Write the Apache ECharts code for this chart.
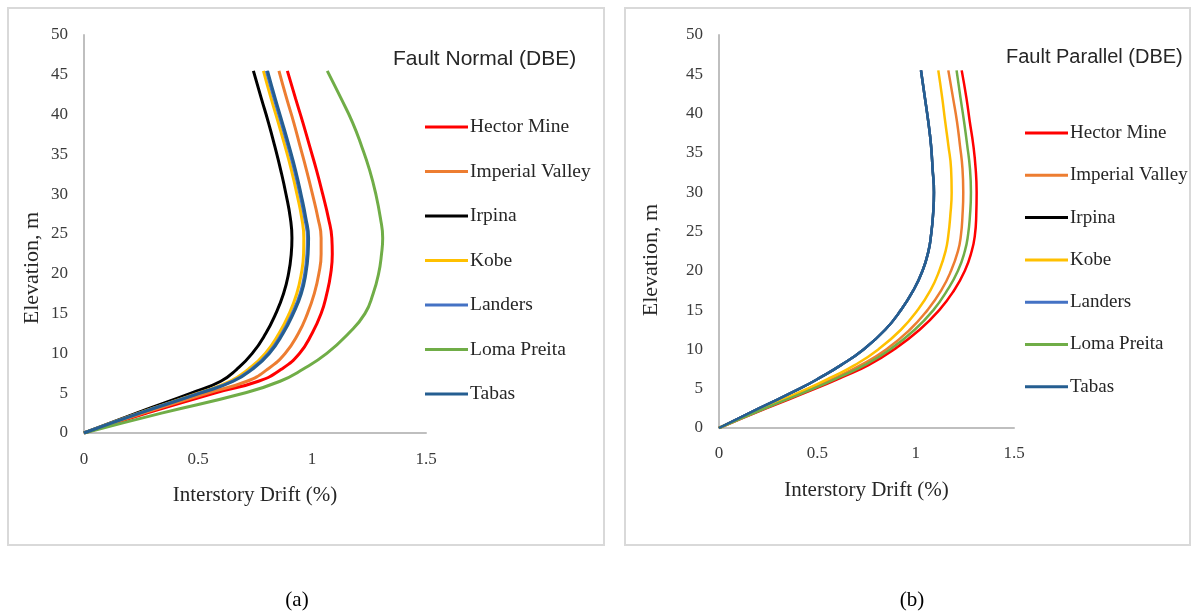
<!DOCTYPE html>
<html>
<head>
<meta charset="utf-8">
<script src="https://cdn.jsdelivr.net/npm/echarts@6/dist/echarts.min.js"></script>
<style>
html,body{margin:0;padding:0;background:#fff;}
#chart{width:1197px;height:616px;}
</style>
</head>
<body>
<div id="chart"></div>
<script>
// Elevation (m) at which drift values were read
const elevation = [0, 2.5, 5, 6.5, 8, 10, 12.5, 15, 17.5, 20, 22.5, 24.5, 27, 30, 33, 36, 39, 42, 45.5];

const seriesNames = ['Hector Mine', 'Imperial Valley', 'Irpina', 'Kobe', 'Landers', 'Loma Preita', 'Tabas'];
const seriesColors = ['#FF0000', '#ED7D31', '#000000', '#FFC000', '#4472C4', '#70AD47', '#255E91'];

// (a) Fault Normal (DBE) – interstory drift (%)
const fnHector   = [0, 0.275, 0.57, 0.765, 0.865, 0.945, 1.0, 1.04, 1.065, 1.082, 1.089, 1.087, 1.072, 1.047, 1.02, 0.99, 0.96, 0.928, 0.892];
const fnImperial = [0, 0.26, 0.54, 0.715, 0.805, 0.882, 0.94, 0.98, 1.01, 1.03, 1.04, 1.04, 1.026, 1.002, 0.976, 0.948, 0.92, 0.889, 0.855];
const fnIrpina   = [0, 0.23, 0.47, 0.6, 0.67, 0.738, 0.797, 0.841, 0.875, 0.897, 0.909, 0.912, 0.905, 0.886, 0.863, 0.837, 0.809, 0.778, 0.743];
const fnKobe     = [0, 0.24, 0.5, 0.64, 0.72, 0.795, 0.855, 0.9, 0.933, 0.953, 0.963, 0.964, 0.955, 0.934, 0.91, 0.882, 0.852, 0.821, 0.787];
const fnLanders  = [0, 0.243, 0.505, 0.65, 0.733, 0.808, 0.868, 0.913, 0.948, 0.968, 0.978, 0.98, 0.968, 0.947, 0.923, 0.895, 0.865, 0.834, 0.8];
const fnLoma     = [0, 0.34, 0.7, 0.86, 0.96, 1.065, 1.16, 1.232, 1.268, 1.292, 1.305, 1.31, 1.3, 1.28, 1.253, 1.218, 1.178, 1.128, 1.067];
const fnTabas    = [0, 0.245, 0.51, 0.655, 0.738, 0.813, 0.873, 0.918, 0.953, 0.973, 0.983, 0.985, 0.973, 0.952, 0.928, 0.9, 0.87, 0.839, 0.805];

// (b) Fault Parallel (DBE) – interstory drift (%)
const fpHector   = [0, 0.24, 0.49, 0.63, 0.76, 0.89, 1.02, 1.12, 1.195, 1.25, 1.285, 1.301, 1.308, 1.31, 1.305, 1.293, 1.275, 1.258, 1.234];
const fpImperial = [0, 0.23, 0.47, 0.6, 0.72, 0.85, 0.97, 1.06, 1.13, 1.18, 1.215, 1.23, 1.238, 1.242, 1.238, 1.225, 1.21, 1.19, 1.166];
const fpIrpina   = [0, 0.203, 0.41, 0.52, 0.62, 0.735, 0.845, 0.925, 0.988, 1.035, 1.065, 1.078, 1.088, 1.093, 1.086, 1.078, 1.064, 1.047, 1.027];
const fpKobe     = [0, 0.22, 0.45, 0.575, 0.69, 0.81, 0.925, 1.01, 1.075, 1.12, 1.152, 1.166, 1.176, 1.183, 1.18, 1.166, 1.15, 1.135, 1.115];
const fpLanders  = [0, 0.203, 0.41, 0.52, 0.62, 0.735, 0.845, 0.925, 0.988, 1.035, 1.065, 1.078, 1.088, 1.093, 1.086, 1.078, 1.064, 1.047, 1.027];
const fpLoma     = [0, 0.235, 0.48, 0.615, 0.74, 0.87, 0.995, 1.09, 1.16, 1.215, 1.25, 1.266, 1.276, 1.281, 1.276, 1.262, 1.246, 1.228, 1.208];
const fpTabas    = [0, 0.203, 0.41, 0.52, 0.62, 0.735, 0.845, 0.925, 0.988, 1.035, 1.065, 1.078, 1.088, 1.093, 1.086, 1.078, 1.064, 1.047, 1.027];

const xTicks = [0, 0.5, 1, 1.5];

const fnData = [fnHector, fnImperial, fnIrpina, fnKobe, fnLanders, fnLoma, fnTabas];
const fpData = [fpHector, fpImperial, fpIrpina, fpKobe, fpLanders, fpLoma, fpTabas];

function pairs(arr) { return arr.map((v, i) => [v, elevation[i]]); }

const serif = 'Liberation Serif';
const sans = 'Liberation Sans';

function makeSeries(dataSet, gridIdx, width) {
  return dataSet.map((arr, i) => ({
    name: seriesNames[i],
    type: 'line',
    xAxisIndex: gridIdx,
    yAxisIndex: gridIdx,
    data: pairs(arr),
    smooth: 0.5,
    symbol: 'none',
    lineStyle: { color: seriesColors[i], width: width },
    itemStyle: { color: seriesColors[i] },
    silent: true,
    animation: false
  }));
}

function xAxisDef(gridIdx, margin) {
  return {
    type: 'value', gridIndex: gridIdx, min: 0, max: 1.5, interval: 0.5,
    name: 'Interstory Drift (%)', nameLocation: 'middle', nameGap: 52,
    nameTextStyle: { fontFamily: serif, fontSize: 21, color: '#262626' },
    axisLine: { show: true, lineStyle: { color: '#bfbfbf', width: 2 } },
    axisTick: { show: false },
    splitLine: { show: false },
    axisLabel: { fontFamily: serif, fontSize: 17, color: '#3a3a3a', margin: margin,
      formatter: v => xTicks.includes(v) ? String(v) : '' }
  };
}
function yAxisDef(gridIdx) {
  return {
    type: 'value', gridIndex: gridIdx, min: 0, max: 50, interval: 5,
    axisLine: { show: true, lineStyle: { color: '#bfbfbf', width: 2 } },
    axisTick: { show: false },
    splitLine: { show: false },
    axisLabel: { fontFamily: serif, fontSize: 17, color: '#3a3a3a', margin: 16 }
  };
}

function legendDef(left, top, gap, size) {
  return {
    orient: 'vertical', left: left, top: top, padding: 0,
    icon: 'rect', itemWidth: 43, itemHeight: 3, itemGap: gap,
    textStyle: { fontFamily: serif, fontSize: size, lineHeight: 20, color: '#262626', padding: [0, 0, 0, -3] },
    data: seriesNames, selectedMode: false
  };
}

const option = {
  backgroundColor: '#fff',
  animation: false,
  title: [
    { text: 'Fault Normal (DBE)', left: 393, top: 49, padding: 0, textStyle: { fontFamily: sans, fontSize: 21, fontWeight: 'normal', color: '#262626' } },
    { text: 'Fault Parallel (DBE)', left: 1006, top: 47, padding: 0, textStyle: { fontFamily: sans, fontSize: 20, fontWeight: 'normal', color: '#262626' } }
  ],
  legend: [
    legendDef(425, 117, 24.5, 19.5),
    legendDef(1025, 123, 22.3, 19)
  ],
  grid: [
    { left: 84, top: 35, width: 342, height: 398 },
    { left: 719, top: 35, width: 295, height: 393 }
  ],
  xAxis: [xAxisDef(0, 18), xAxisDef(1, 17)],
  yAxis: [yAxisDef(0), yAxisDef(1)],
  graphic: [
    { type: 'rect', shape: { x: 8, y: 8, width: 596, height: 537 }, style: { fill: 'none', stroke: '#d9d9d9', lineWidth: 2 }, silent: true },
    { type: 'rect', shape: { x: 625, y: 8, width: 565, height: 537 }, style: { fill: 'none', stroke: '#d9d9d9', lineWidth: 2 }, silent: true },
    { type: 'text', x: 32, y: 268, rotation: Math.PI / 2, style: { text: 'Elevation, m', font: '22px "Liberation Serif"', fill: '#262626', align: 'center', verticalAlign: 'middle' }, silent: true },
    { type: 'text', x: 651, y: 260, rotation: Math.PI / 2, style: { text: 'Elevation, m', font: '22px "Liberation Serif"', fill: '#262626', align: 'center', verticalAlign: 'middle' }, silent: true },
    { type: 'text', x: 297, y: 600, style: { text: '(a)', font: '21px "Liberation Serif"', fill: '#000', align: 'center', verticalAlign: 'middle' } },
    { type: 'text', x: 912, y: 600, style: { text: '(b)', font: '21px "Liberation Serif"', fill: '#000', align: 'center', verticalAlign: 'middle' } }
  ],
  series: makeSeries(fnData, 0, 3).concat(makeSeries(fpData, 1, 2.5))
};

const chart = echarts.init(document.getElementById('chart'), null, { renderer: 'canvas' });
chart.setOption(option);
</script>
</body>
</html>
